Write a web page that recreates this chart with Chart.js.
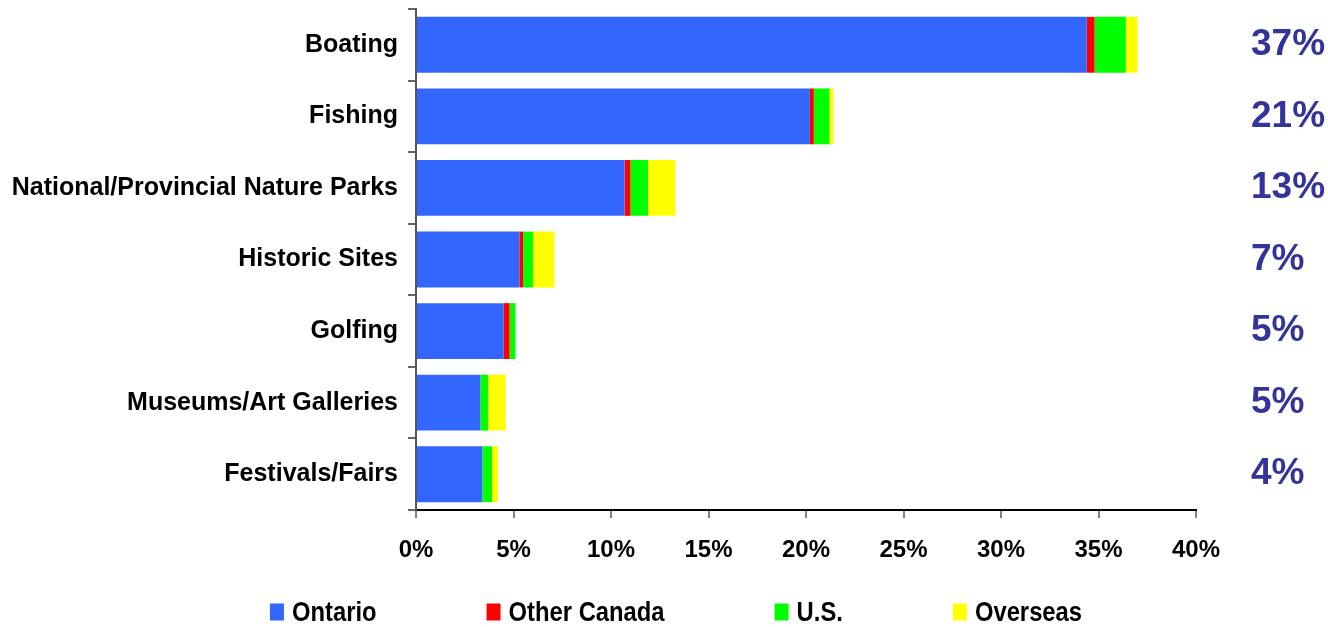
<!DOCTYPE html>
<html>
<head>
<meta charset="utf-8">
<script src="https://cdn.jsdelivr.net/npm/chart.js@4.4.1/dist/chart.umd.min.js"></script>
<style>
  html, body { margin: 0; padding: 0; background: #ffffff; }
  #wrap { width: 1328px; height: 627px; position: relative; }
</style>
</head>
<body>
<div id="wrap"><canvas id="aktiviteler"></canvas></div>
<script>
// Activities by visitor origin (% of trips)
const categories = [
  "Boating",
  "Fishing",
  "National/Provincial Nature Parks",
  "Historic Sites",
  "Golfing",
  "Museums/Art Galleries",
  "Festivals/Fairs",
];
const ontario = [34.4, 20.2, 10.7, 5.3, 4.5, 3.3, 3.4];
const otherCanada = [0.4, 0.2, 0.3, 0.2, 0.3, 0, 0];
const us = [1.6, 0.8, 0.9, 0.5, 0.3, 0.4, 0.5];
const overseas = [0.6, 0.2, 1.4, 1.1, 0, 0.9, 0.3];

const seriesNames = ["Ontario", "Other Canada", "U.S.", "Overseas"];
const seriesColors = ["#3366FF", "#FF0000", "#00FF00", "#FFFF00"];
const xTicks = [0, 5, 10, 15, 20, 25, 30, 35, 40];

// right hand totals, summed from the four series
const totals = categories.map(
  (c, i) => Math.round(ontario[i] + otherCanada[i] + us[i] + overseas[i]) + "%"
);

const boldFont = "'Liberation Sans', Arial, sans-serif";

// legend drawn by hand so the gap between items can be wide;
// text is squeezed a little to get the narrow look
const altLejant = {
  id: "altLejant",
  afterDraw(chart) {
    const ctx = chart.ctx;
    const boxW = 14, boxH = 17, textGap = 8, itemGap = 110, squeeze = 0.85;
    const centerX = 676, centerY = 612;
    ctx.save();
    ctx.font = "bold 28px " + boldFont;
    ctx.textBaseline = "middle";
    ctx.textAlign = "left";
    const items = chart.data.datasets.map((ds) => {
      const textW = ctx.measureText(ds.label).width * squeeze;
      return { label: ds.label, color: ds.backgroundColor, w: boxW + textGap + textW };
    });
    const total = items.reduce((acc, it) => acc + it.w, 0) + itemGap * (items.length - 1);
    let x = centerX - total / 2;
    items.forEach((it) => {
      ctx.fillStyle = it.color;
      ctx.fillRect(x, centerY - boxH / 2, boxW, boxH);
      ctx.save();
      ctx.translate(x + boxW + textGap, centerY + 1);
      ctx.scale(squeeze, 1);
      ctx.fillStyle = "#000000";
      ctx.fillText(it.label, 0, 0);
      ctx.restore();
      x += it.w + itemGap;
    });
    ctx.restore();
  },
};

// vertical axes should not push the plot down with label padding
function dikeyEksenSabitle(genislik) {
  return function (scale) {
    scale.width = genislik;
    scale.paddingTop = 0;
    scale.paddingBottom = 0;
  };
}

const veriSetleri = [ontario, otherCanada, us, overseas].map((values, i) => ({
  label: seriesNames[i],
  data: values,
  backgroundColor: seriesColors[i],
  borderWidth: 0,
  categoryPercentage: 1,
  barPercentage: 0.78,
  yAxisID: "y",
}));

new Chart(document.getElementById("aktiviteler"), {
  type: "bar",
  data: { labels: categories, datasets: veriSetleri },
  options: {
    indexAxis: "y",
    responsive: true,
    maintainAspectRatio: false,
    animation: false,
    layout: { padding: { top: 9, left: 0, right: 0, bottom: 70 } },
    plugins: {
      legend: { display: false },
      tooltip: { enabled: false },
    },
    scales: {
      x: {
        stacked: true,
        min: 0,
        max: 40,
        afterBuildTicks(scale) {
          scale.ticks = xTicks.map((v) => ({ value: v }));
        },
        ticks: {
          color: "#000000",
          padding: 18,
          font: { family: boldFont, size: 24, weight: "bold" },
          callback: (v) => v + "%",
        },
        grid: {
          drawOnChartArea: false,
          tickLength: 8,
          color: "#808080",
          lineWidth: 2,
        },
        border: { color: "#000000", width: 2 },
        afterFit(scale) {
          scale.height = 47;
        },
      },
      y: {
        stacked: true,
        position: "left",
        ticks: {
          color: "#000000",
          padding: 10,
          font: { family: boldFont, size: 25, weight: "bold" },
        },
        grid: {
          offset: true,
          drawOnChartArea: false,
          tickLength: 8,
          color: "#666666",
          lineWidth: 2,
        },
        border: { color: "#555555", width: 2 },
        afterFit: dikeyEksenSabitle(416),
      },
      y2: {
        type: "category",
        position: "right",
        labels: totals,
        offset: true,
        grid: { display: false },
        border: { display: false },
        ticks: {
          color: "#333399",
          padding: 47,
          font: { family: boldFont, size: 37, weight: "bold" },
        },
        afterFit: dikeyEksenSabitle(132),
      },
    },
  },
  plugins: [altLejant],
});
</script>
</body>
</html>
